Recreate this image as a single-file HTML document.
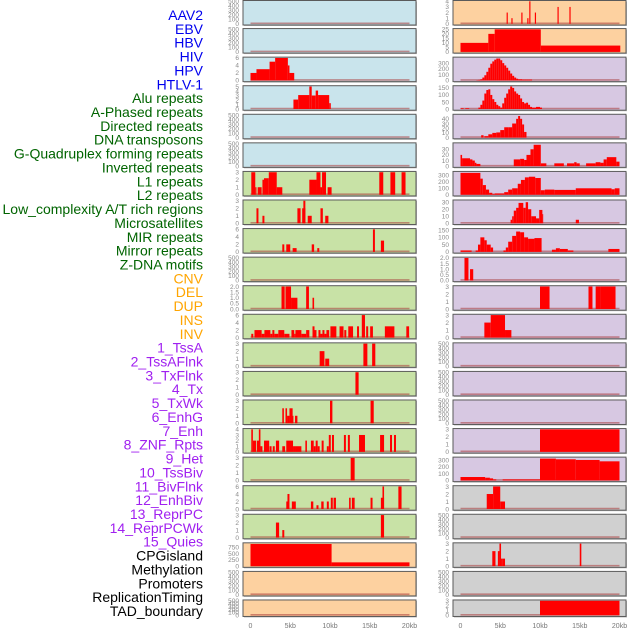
<!DOCTYPE html>
<html><head><meta charset="utf-8">
<style>
html,body{margin:0;padding:0;background:#fff;}
svg{display:block;font-family:"Liberation Sans",sans-serif;}
</style></head>
<body>
<svg id="chart" width="630" height="630" viewBox="0 0 630 630" xmlns="http://www.w3.org/2000/svg">
<g id="labels"></g>
<g id="panels"></g>
<g id="xaxes"></g>
</svg>
<script>
const labelNames = ["AAV2","EBV","HBV","HIV","HPV","HTLV-1","Alu repeats","A-Phased repeats","Directed repeats","DNA transposons","G-Quadruplex forming repeats","Inverted repeats","L1 repeats","L2 repeats","Low_complexity A/T rich regions","Microsatellites","MIR repeats","Mirror repeats","Z-DNA motifs","CNV","DEL","DUP","INS","INV","1_TssA","2_TssAFlnk","3_TxFlnk","4_Tx","5_TxWk","6_EnhG","7_Enh","8_ZNF_Rpts","9_Het","10_TssBiv","11_BivFlnk","12_EnhBiv","13_ReprPC","14_ReprPCWk","15_Quies","CPGisland","Methylation","Promoters","ReplicationTiming","TAD_boundary"];
const labelGroups = [0,0,0,0,0,0,1,1,1,1,1,1,1,1,1,1,1,1,1,2,2,2,2,2,3,3,3,3,3,3,3,3,3,3,3,3,3,3,3,4,4,4,4,4];
const groupColors = ["#0000ee","#006400","#ffa500","#a020f0","#000000"];

const xTickValues = [0,5,10,15,20];
const xTickLabels = ["0","5kb","10kb","15kb","20kb"];

const E = [0,100,200,300,400,500];
const leftTicks = [E,E,[0,2,4,6],[0,1,2,3,4,5],E,E,[0,1,2,3],[0,1,2,3],[0,2,4,6],E,[0,0.5,1,1.5,2],[0,2,4,6],[0,1,2,3],[0,1,2,3],[0,1,2,3],[0,1,2,3,4],[0,1,2,3],[0,2,4,6],[0,1,2,3],[0,250,500,750],E,E];
const leftYMax = [500,500,6,5,500,500,3,3,6,500,2,6,3,3,3,4,3,6,3,895,500,500];
const leftBg = ["#c9e4ec","#c9e4ec","#c9e4ec","#c9e4ec","#c9e4ec","#c9e4ec","#c8e2a6","#c8e2a6","#c8e2a6","#c8e2a6","#c8e2a6","#c8e2a6","#c8e2a6","#c8e2a6","#c8e2a6","#c8e2a6","#c8e2a6","#c8e2a6","#c8e2a6","#fdd1a0","#fdd1a0","#fdd1a0"];
const leftSeries = [
 [],[],
 [[0,0.75,2],[0.75,2.4,3],[2.4,3.1,5],[3.1,4.7,6],[4.7,4.9,4],[4.9,5.5,2]],
 [[5.4,6.0,2.1],[6.0,7.4,3.1],[7.4,7.7,5],[7.7,8.2,3],[8.2,8.5,4.1],[8.5,9.9,3.1],[9.9,10.1,1.3]],
 [],[],
 [[0.1,0.6,3],[0.6,0.75,1],[0.9,1.4,1],[1.5,1.7,2],[1.7,2.3,2.2],[2.3,3.3,3],[3.3,4.0,1],[7.4,8.3,2],[8.3,8.8,3],[8.8,9.0,1],[9.0,9.5,3],[9.7,10.2,1],[16.2,16.7,3],[17.6,18.2,3],[19.0,19.5,3]],
 [[0.75,1.0,2],[1.5,1.75,1],[5.9,6.3,2],[6.5,6.9,2],[6.65,6.9,3],[7.2,7.7,1],[8.8,9.1,2],[9.4,9.8,1]],
 [[4.0,4.25,2],[4.5,5.0,2],[5.3,5.8,1],[7.7,8.0,2],[8.4,8.65,1],[15.4,15.65,6],[16.4,16.8,3]],
 [],
 [[3.9,4.3,2],[4.4,5.1,2],[5.1,5.9,1],[7.0,7.35,2],[7.8,8.0,1]],
 [[0.1,0.35,1],[0.5,1.4,2],[1.4,1.75,1],[1.75,2.5,2],[2.5,2.75,1],[2.75,3.0,2],[3.0,3.5,1],[3.5,4.25,2],[4.25,4.9,1],[5.15,5.5,2],[5.5,5.65,1],[5.65,6.4,2],[6.4,7.0,1],[7.0,7.4,2],[7.8,8.05,3],[8.05,8.3,2],[8.55,8.8,2],[8.8,9.05,1],[9.05,9.3,2],[9.3,9.55,1],[9.55,9.9,2],[10.05,10.8,3],[11.2,11.7,3],[11.8,12.05,2],[12.3,12.9,3],[13.4,13.65,3],[14.0,14.4,6],[14.55,14.8,3],[15.05,15.4,3],[16.9,18.1,3],[19.6,19.95,3]],
 [[8.7,9.3,2],[9.4,9.9,1],[14.2,14.7,3],[15.3,15.7,3]],
 [[13.2,13.6,3]],
 [[4.0,4.2,2],[4.4,4.6,2],[4.6,4.9,1],[4.9,5.3,2],[5.1,5.4,1],[5.6,5.9,1],[10.0,10.3,3],[15.1,15.5,3]],
 [[0.1,0.3,4],[0.3,0.7,2],[0.8,1.1,2],[1.05,1.25,4],[1.25,1.5,1],[1.7,2.35,2],[2.4,2.65,1],[2.8,3.05,1],[3.2,3.6,2],[4.0,4.35,1],[4.5,5.35,2],[5.35,5.6,1],[5.6,6.4,1],[6.9,7.1,2],[7.6,7.95,2],[7.95,8.2,1],[8.2,8.45,2],[8.45,8.7,1],[8.95,9.2,2],[9.6,9.85,1],[9.85,10.1,3],[10.25,10.5,3],[11.75,12.0,3],[12.25,12.5,3],[13.65,14.4,3],[16.3,16.8,3],[17.55,17.8,3],[18.05,18.3,3]],
 [[12.6,13.1,3]],
 [[4.5,4.8,2],[4.65,4.9,4],[5.2,5.7,2],[7.6,7.9,2],[8.3,8.55,1],[8.9,9.2,2],[9.6,9.85,2],[10.1,10.35,3],[10.45,10.75,3],[12.4,12.6,3],[12.75,13.1,3],[15.1,15.35,3],[16.4,16.8,3],[16.6,16.8,6],[18.6,19.0,6]],
 [[3.2,3.6,2],[4.0,4.25,1],[16.4,16.8,3]],
 [[0,10.2,880],[10.2,20.0,150]],
 [],[]
];

const rightTicks = [[0,1,2,3,4],[0,5,10,15,20,25],[0,100,200,300],[0,50,100,150],[0,10,20,30,40],[0,10,20,30],[0,100,200,300],[0,10,20,30],[0,50,100,150],[0,0.5,1,1.5,2],[0,1,2,3],[0,1,2,3],E,E,E,[0,1,2,3],[0,100,200,300],[0,1,2,3],E,[0,1,2,3],E,[0,1,2,3]];
const rightTickText = {9:["0.0","0.5","1.0","1.5","2.0"]};
const leftTickText = {10:["0.0","0.5","1.0","1.5","2.0"]};
const rightYMax = [4,25,390,160,48,40,350,32,155,2,3,3,500,500,500,3,330,3,500,3,500,3];
const rightBg = ["#fdd1a0","#fdd1a0","#d7c8e2","#d7c8e2","#d7c8e2","#d7c8e2","#d7c8e2","#d7c8e2","#d7c8e2","#d7c8e2","#d7c8e2","#d7c8e2","#d7c8e2","#d7c8e2","#d7c8e2","#d7c8e2","#d7c8e2","#d0d0d0","#d0d0d0","#d0d0d0","#d0d0d0","#d0d0d0"];
const hivValues = [5,10,20,50,90,150,220,290,330,360,380,380,350,300,260,220,170,120,80,50,30,20,20,15,15,15,15,15];
const aluValues = [10,30,60,110,135,140,100,70,50,30,20,10,40,80,110,140,160,150,125,110,100,75,50,40,45,30,15,10,10,15,15,10];
const rightSeries = [
 [[5.8,5.95,2],[6.4,6.55,1],[7.65,7.8,2],[8.4,8.55,1],[8.65,8.8,4],[9.35,9.5,2],[12.2,12.35,3],[13.7,13.85,3]],
 [[0,3.5,10],[3.5,4.3,20],[4.3,10.1,25],[10.1,20.1,7]],
 {start:2.0, step:0.25, values:hivValues},
 {start:2.25, step:0.25, values:aluValues, extra:[[0,0.4,5],[0.6,1.1,5]]},
 [[2.6,2.9,5],[3.0,3.5,3],[3.5,4.0,7],[4.0,4.5,10],[4.5,5.0,11],[5.0,5.5,16],[5.5,6.0,22],[6.0,6.5,22],[6.5,7.0,30],[7.0,7.25,40],[7.25,7.5,46],[7.5,7.75,40],[7.75,8.0,28],[8.0,8.3,12]],
 [[0,0.2,20],[0.2,1.2,14],[1.2,1.5,12],[1.5,1.8,10],[1.8,2.0,6],[2.0,2.5,4],[6.7,7.5,12],[7.5,8.0,13],[8.0,8.3,11],[8.3,8.8,20],[8.8,9.2,30],[9.2,10.1,38],[10.1,10.8,5],[11.8,13.0,5],[13.4,14.3,5],[14.3,14.6,7],[14.6,15.0,5],[15.8,17.0,5],[17.0,17.6,7],[17.6,18.0,6],[18.0,18.4,12],[18.4,19.6,16],[19.6,20.0,8]],
 [[0,2.5,340],[2.5,2.8,250],[2.8,3.2,150],[3.2,3.6,80],[3.6,4.0,30],[4.0,4.3,10],[4.3,5.5,20],[5.5,6.0,40],[6.0,6.5,80],[6.5,7.2,100],[7.2,7.6,170],[7.6,8.1,230],[8.1,8.6,270],[8.6,9.4,280],[9.4,10.1,260],[10.1,10.6,70],[10.6,11.8,80],[11.8,14.5,75],[14.5,19.0,100],[19.0,19.4,85],[19.4,20.0,100]],
 [[6.3,6.5,5],[6.5,6.7,10],[6.7,7.0,18],[7.0,7.3,22],[7.3,7.9,29],[7.9,8.2,22],[8.2,8.5,30],[8.5,8.9,20],[8.9,9.5,10],[9.5,9.9,7],[9.9,10.3,19],[10.3,10.4,13],[14.5,14.9,5]],
 [[0,1.4,10],[1.9,2.2,10],[2.2,2.5,50],[2.5,3.0,100],[3.0,3.3,80],[3.3,3.8,50],[3.8,4.1,30],[5.4,5.7,10],[5.7,6.0,30],[6.0,6.5,70],[6.5,7.0,110],[7.0,7.5,140],[7.5,8.0,135],[8.0,8.5,100],[8.5,9.3,90],[9.3,10.2,95],[11.5,12.0,15],[12.0,12.5,25],[12.5,13.5,20],[13.5,14.2,10],[18.6,20.0,20]],
 [[0.5,1.0,2],[1.2,1.6,1]],
 [[10.0,11.2,3],[16.1,16.6,3],[17.0,17.6,3],[17.6,19.5,3]],
 [[3.0,3.8,2],[3.8,5.6,3],[5.6,6.4,1]],
 [],[],[],
 [[10.0,20.0,3]],
 [[0,3.1,50],[3.1,3.7,40],[3.7,4.1,30],[4.1,4.5,15],[5.3,10.0,15],[10.0,12.0,320],[12.0,14.5,310],[14.5,17.5,300],[17.5,20.0,280]],
 [[3.3,4.1,2],[4.1,5.0,3],[5.0,5.6,1]],
 [],
 [[4.0,4.4,2],[4.7,4.9,2],[4.9,5.1,3],[5.1,5.3,1],[5.3,5.6,1],[15.0,15.2,3]],
 [],
 [[10.0,20.0,3]]
];

const NS = "http://www.w3.org/2000/svg";
function mk(tag, attrs, parent){
  const el = document.createElementNS(NS, tag);
  for (const k in attrs) el.setAttribute(k, attrs[k]);
  parent.appendChild(el);
  return el;
}

// labels
const labG = document.getElementById('labels');
labelNames.forEach((name,i)=>{
  const t = mk('text',{x:203,y:15+i*(596/43)+5,'text-anchor':'end','font-size':'14',fill:groupColors[labelGroups[i]]},labG);
  
  
  t.textContent = name;
});

const cols = [
  {frameX:243, frameW:173, x0:250.5, x20:409.5, tickX:239, ticks:leftTicks, ymax:leftYMax, bg:leftBg, series:leftSeries, tickText:leftTickText, side:'left'},
  {frameX:453, frameW:173, x0:460.5, x20:619.5, tickX:449, ticks:rightTicks, ymax:rightYMax, bg:rightBg, series:rightSeries, tickText:rightTickText, side:'right'}
];
function rowTop(i){ return i===0 ? 0.5 : i*28.57; }
function rowH(i){ return i===21 ? 16.5 : 24.5; }

function toSegs(s){
  if (Array.isArray(s)) return s;
  const out = (s.extra||[]).slice();
  s.values.forEach((v,k)=>{ out.push([s.start+k*s.step, s.start+(k+1)*s.step, v]); });
  return out;
}

const panG = document.getElementById('panels');
cols.forEach(c=>{
  const xs = kb => c.x0 + (c.x20-c.x0)*kb/20;
  for (let r=0;r<22;r++){
    const top = rowTop(r), h = rowH(r);
    const g = mk('g',{},panG);
    
    
    mk('rect',{x:c.frameX+1,y:top+1,width:c.frameW,height:h,fill:'#bbb'},g);
    mk('rect',{x:c.frameX,y:top,width:c.frameW,height:h,fill:c.bg[r],stroke:'#5a5a5a','stroke-width':1},g);
    const yb = top+h-1.2, yt = top+0.8;
    const ys = v => yb - (yb-yt)*v/c.ymax[r];
    // baseline
    const bl = mk('line',{x1:xs(0),x2:xs(20),y1:yb-0.5,y2:yb-0.5,stroke:'rgba(170,60,60,0.55)','stroke-width':1.6},g);
    
    
    // bars
    toSegs(c.series[r]).forEach(s=>{
      const y = Math.max(yt, ys(s[2]));
      const b = mk('rect',{x:xs(s[0]),y:y,width:Math.max(0.8,xs(s[1])-xs(s[0])),height:yb-y,fill:'#ff0000'},g);
      
      
    });
    // y ticks
    const tt = c.tickText[r];
    c.ticks[r].forEach((v,k)=>{
      const t = mk('text',{x:c.tickX,y:ys(v)+2.3,'text-anchor':'end','font-size':'6.5',fill:'#8a8a8a'},g);
      
      
      t.textContent = tt ? tt[k] : String(v);
    });
  }
  const xg = document.getElementById('xaxes');
  xTickValues.forEach((v,k)=>{
    const t = mk('text',{x:xs(v),y:628,'text-anchor':'middle','font-size':'7',fill:'#777'},xg);
    
    
    t.textContent = xTickLabels[k];
  });
});
</script>
</body></html>
